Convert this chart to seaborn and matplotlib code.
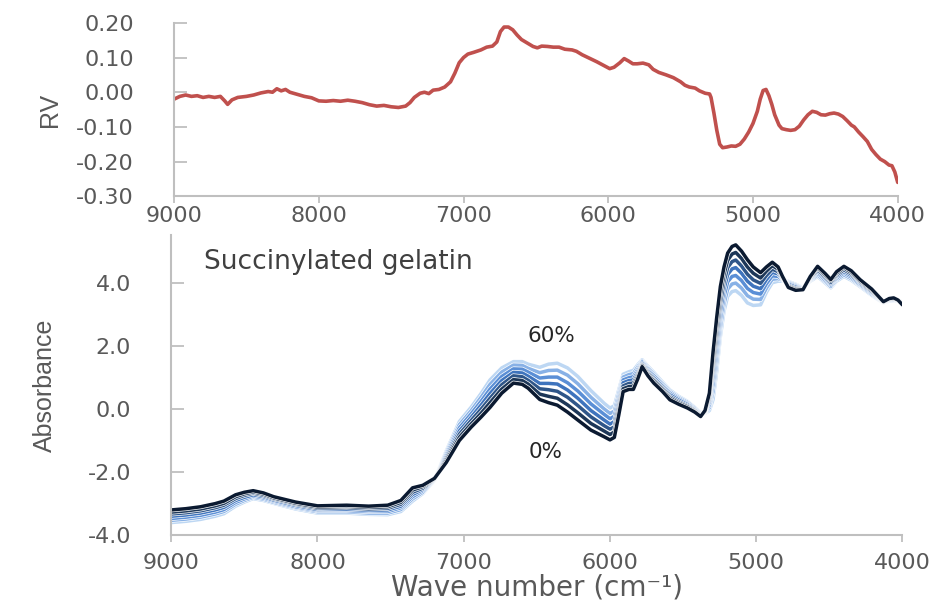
import matplotlib
matplotlib.use("Agg")
import matplotlib.pyplot as plt
import matplotlib.patheffects as pe
import pandas as pd
import seaborn as sns

# ---------------- regression vector (top panel) ----------------
rv_wavenumber = [
    9000, 8960, 8920, 8880, 8840, 8800, 8760, 8720, 8680, 8650, 8630, 8600, 8560,
    8500, 8450, 8400, 8350, 8320, 8290, 8260, 8230, 8200, 8150, 8100, 8050, 8000,
    7950, 7900, 7850, 7800, 7750, 7700, 7650, 7600, 7550, 7500, 7450, 7400, 7370,
    7340, 7300, 7270, 7240, 7210, 7170, 7130, 7090, 7060, 7030, 7000, 6970, 6930,
    6880, 6840, 6800, 6770, 6745, 6720, 6690, 6660, 6630, 6600, 6560, 6520, 6490,
    6460, 6420, 6380, 6340, 6300, 6250, 6220, 6180, 6130, 6080, 6030, 5990, 5960,
    5920, 5890, 5860, 5830, 5800, 5760, 5720, 5690, 5650, 5600, 5550, 5500, 5470,
    5440, 5400, 5370, 5330, 5300, 5290, 5270, 5250, 5230, 5210, 5180, 5150, 5120,
    5090, 5060, 5030, 5000, 4970, 4950, 4930, 4910, 4890, 4870, 4850, 4820, 4800,
    4770, 4740, 4710, 4680, 4650, 4620, 4590, 4560, 4530, 4500, 4470, 4440, 4410,
    4380, 4350, 4320, 4300, 4270, 4240, 4210, 4180, 4150, 4120, 4090, 4060, 4040,
    4020, 4000,
]
rv_values = [
    -0.020, -0.012, -0.008, -0.012, -0.010, -0.015, -0.012, -0.015, -0.012, -0.025,
    -0.035, -0.022, -0.015, -0.012, -0.008, -0.002, 0.002, 0.000, 0.010, 0.004,
    0.008, 0.000, -0.006, -0.012, -0.016, -0.025, -0.026, -0.024, -0.026, -0.023,
    -0.026, -0.030, -0.036, -0.040, -0.038, -0.042, -0.044, -0.040, -0.030, -0.015,
    -0.003, 0.000, -0.004, 0.006, 0.008, 0.015, 0.030, 0.055, 0.085, 0.100,
    0.110, 0.115, 0.122, 0.130, 0.133, 0.145, 0.175, 0.188, 0.188, 0.180,
    0.165, 0.152, 0.142, 0.132, 0.128, 0.133, 0.132, 0.130, 0.130, 0.124,
    0.122, 0.118, 0.108, 0.098, 0.088, 0.077, 0.068, 0.072, 0.085, 0.097,
    0.090, 0.082, 0.082, 0.084, 0.079, 0.066, 0.057, 0.050, 0.042, 0.030,
    0.020, 0.015, 0.012, 0.004, -0.003, -0.005, -0.015, -0.060, -0.110, -0.150,
    -0.160, -0.158, -0.155, -0.156, -0.150, -0.135, -0.115, -0.090, -0.055, -0.020,
    0.005, 0.008, -0.010, -0.035, -0.065, -0.095, -0.105, -0.108, -0.110, -0.108,
    -0.098, -0.080, -0.065, -0.055, -0.058, -0.065, -0.066, -0.062, -0.060, -0.063,
    -0.070, -0.082, -0.095, -0.100, -0.115, -0.128, -0.142, -0.165, -0.180, -0.193,
    -0.200, -0.210, -0.212, -0.230, -0.260,
]

# ---------------- absorbance spectra (bottom panel) ----------------
abs_wavenumber = [
    9000, 8900, 8800, 8700, 8640, 8560, 8500, 8440, 8370, 8300,
    8150, 8000, 7800, 7650, 7520, 7430, 7350, 7280, 7200, 7120,
    7030, 6950, 6880, 6820, 6740, 6660, 6600, 6560, 6480, 6420,
    6360, 6290, 6220, 6130, 6040, 6000, 5970, 5940, 5910, 5870,
    5840, 5810, 5780, 5740, 5700, 5640, 5590, 5530, 5470, 5420,
    5380, 5350, 5320, 5295, 5270, 5245, 5220, 5195, 5165, 5140,
    5100, 5060, 5020, 4970, 4930, 4890, 4850, 4820, 4780, 4730,
    4680, 4630, 4580, 4530, 4490, 4450, 4400, 4350, 4290, 4210,
    4130, 4090, 4060, 4030, 4000,
]
levels = ["0%", "10%", "20%", "30%", "40%", "50%", "60%"]

absorbance_0 = [
    -3.20, -3.16, -3.10, -3.00, -2.92, -2.72, -2.64, -2.59, -2.66, -2.78,
    -2.95, -3.07, -3.05, -3.08, -3.05, -2.90, -2.50, -2.42, -2.20, -1.70,
    -1.00, -0.58, -0.25, 0.05, 0.50, 0.82, 0.78, 0.66, 0.30, 0.20,
    0.12, -0.10, -0.35, -0.67, -0.88, -0.98, -0.90, -0.20, 0.55, 0.62,
    0.62, 0.95, 1.34, 1.05, 0.82, 0.55, 0.29, 0.15, 0.03, -0.10,
    -0.24, -0.05, 0.50, 1.80, 2.90, 3.88, 4.50, 4.94, 5.15, 5.20,
    5.00, 4.73, 4.50, 4.32, 4.50, 4.65, 4.50, 4.20, 3.85, 3.76,
    3.78, 4.20, 4.52, 4.30, 4.10, 4.35, 4.52, 4.38, 4.10, 3.80,
    3.40, 3.50, 3.52, 3.45, 3.30,
]
absorbance_10 = [
    -3.27, -3.23, -3.17, -3.07, -2.99, -2.78, -2.69, -2.63, -2.70, -2.82,
    -2.99, -3.11, -3.09, -3.12, -3.10, -2.96, -2.57, -2.46, -2.21, -1.64,
    -0.90, -0.48, -0.13, 0.20, 0.63, 0.93, 0.90, 0.79, 0.47, 0.40,
    0.34, 0.13, -0.12, -0.46, -0.70, -0.81, -0.73, -0.07, 0.64, 0.71,
    0.72, 1.03, 1.38, 1.10, 0.88, 0.60, 0.34, 0.19, 0.07, -0.08,
    -0.22, -0.07, 0.41, 1.55, 2.62, 3.62, 4.27, 4.71, 4.91, 4.96,
    4.77, 4.50, 4.30, 4.15, 4.37, 4.54, 4.43, 4.18, 3.88, 3.79,
    3.79, 4.18, 4.47, 4.25, 4.06, 4.30, 4.47, 4.33, 4.06, 3.77,
    3.39, 3.49, 3.50, 3.45, 3.32,
]
absorbance_20 = [
    -3.33, -3.29, -3.23, -3.13, -3.05, -2.84, -2.74, -2.67, -2.74, -2.85,
    -3.02, -3.15, -3.13, -3.17, -3.15, -3.02, -2.64, -2.51, -2.22, -1.58,
    -0.80, -0.37, 0.00, 0.34, 0.77, 1.05, 1.02, 0.91, 0.64, 0.61,
    0.56, 0.37, 0.11, -0.25, -0.53, -0.64, -0.57, 0.07, 0.73, 0.81,
    0.82, 1.10, 1.41, 1.15, 0.93, 0.65, 0.39, 0.23, 0.10, -0.05,
    -0.20, -0.08, 0.32, 1.30, 2.33, 3.35, 4.03, 4.48, 4.67, 4.72,
    4.53, 4.27, 4.09, 3.98, 4.23, 4.43, 4.35, 4.15, 3.91, 3.82,
    3.80, 4.15, 4.41, 4.20, 4.01, 4.25, 4.41, 4.28, 4.03, 3.73,
    3.39, 3.47, 3.49, 3.44, 3.33,
]
absorbance_30 = [
    -3.40, -3.36, -3.30, -3.20, -3.12, -2.90, -2.80, -2.72, -2.78, -2.89,
    -3.06, -3.19, -3.18, -3.21, -3.20, -3.08, -2.71, -2.55, -2.23, -1.52,
    -0.70, -0.27, 0.13, 0.49, 0.90, 1.16, 1.14, 1.04, 0.81, 0.81,
    0.79, 0.60, 0.34, -0.05, -0.35, -0.48, -0.40, 0.20, 0.83, 0.90,
    0.92, 1.18, 1.45, 1.20, 0.99, 0.70, 0.45, 0.28, 0.14, -0.03,
    -0.18, -0.10, 0.23, 1.05, 2.05, 3.09, 3.80, 4.26, 4.44, 4.48,
    4.30, 4.05, 3.89, 3.81, 4.10, 4.33, 4.28, 4.13, 3.95, 3.86,
    3.81, 4.13, 4.36, 4.15, 3.97, 4.20, 4.36, 4.23, 3.99, 3.70,
    3.38, 3.46, 3.47, 3.44, 3.35,
]
absorbance_40 = [
    -3.47, -3.43, -3.37, -3.27, -3.19, -2.96, -2.85, -2.76, -2.82, -2.92,
    -3.10, -3.22, -3.22, -3.25, -3.25, -3.13, -2.78, -2.59, -2.24, -1.46,
    -0.60, -0.16, 0.25, 0.63, 1.03, 1.27, 1.26, 1.17, 0.98, 1.01,
    1.01, 0.83, 0.57, 0.16, -0.17, -0.31, -0.23, 0.33, 0.92, 0.99,
    1.02, 1.25, 1.49, 1.25, 1.05, 0.75, 0.50, 0.32, 0.17, 0.00,
    -0.16, -0.11, 0.13, 0.80, 1.77, 2.83, 3.57, 4.03, 4.20, 4.23,
    4.07, 3.82, 3.69, 3.64, 3.97, 4.22, 4.20, 4.10, 3.98, 3.89,
    3.82, 4.10, 4.31, 4.10, 3.93, 4.15, 4.31, 4.18, 3.95, 3.67,
    3.37, 3.45, 3.45, 3.43, 3.37,
]
absorbance_50 = [
    -3.53, -3.49, -3.43, -3.33, -3.25, -3.02, -2.90, -2.80, -2.86, -2.96,
    -3.13, -3.26, -3.26, -3.30, -3.30, -3.19, -2.85, -2.64, -2.25, -1.40,
    -0.50, -0.06, 0.38, 0.78, 1.17, 1.39, 1.38, 1.29, 1.15, 1.22,
    1.23, 1.07, 0.80, 0.37, 0.00, -0.14, -0.07, 0.47, 1.01, 1.09,
    1.12, 1.33, 1.52, 1.30, 1.10, 0.80, 0.55, 0.36, 0.21, 0.03,
    -0.14, -0.13, 0.04, 0.55, 1.48, 2.56, 3.33, 3.80, 3.96, 3.99,
    3.83, 3.59, 3.48, 3.47, 3.83, 4.11, 4.13, 4.08, 4.01, 3.92,
    3.83, 4.08, 4.25, 4.05, 3.88, 4.10, 4.25, 4.13, 3.92, 3.63,
    3.37, 3.43, 3.44, 3.43, 3.38,
]
absorbance_60 = [
    -3.60, -3.56, -3.50, -3.40, -3.32, -3.08, -2.95, -2.84, -2.90, -2.99,
    -3.17, -3.30, -3.30, -3.34, -3.35, -3.25, -2.92, -2.68, -2.26, -1.34,
    -0.40, 0.05, 0.50, 0.92, 1.30, 1.50, 1.50, 1.42, 1.32, 1.42,
    1.45, 1.30, 1.03, 0.58, 0.18, 0.03, 0.10, 0.60, 1.10, 1.18,
    1.22, 1.40, 1.56, 1.35, 1.16, 0.85, 0.60, 0.40, 0.24, 0.05,
    -0.12, -0.14, -0.05, 0.30, 1.20, 2.30, 3.10, 3.57, 3.72, 3.75,
    3.60, 3.36, 3.28, 3.30, 3.70, 4.00, 4.05, 4.05, 4.04, 3.95,
    3.84, 4.05, 4.20, 4.00, 3.84, 4.05, 4.20, 4.08, 3.88, 3.60,
    3.36, 3.42, 3.42, 3.42, 3.40,
]
spectra = [absorbance_0, absorbance_10, absorbance_20, absorbance_30,
           absorbance_40, absorbance_50, absorbance_60]
level_colors = ["#0b1a31", "#1d3758", "#2f5689", "#3f74bd",
                "#5b8fd6", "#88b1e6", "#bdd7f3"]

wn_ticks = [9000, 8000, 7000, 6000, 5000, 4000]
rv_ticks = [0.20, 0.10, 0.00, -0.10, -0.20, -0.30]
abs_ticks = [4.0, 2.0, 0.0, -2.0, -4.0]

# ---------------- styling ----------------
sns.set_style("white")
plt.rcParams["font.family"] = ["DejaVu Sans"]
plt.rcParams["axes.unicode_minus"] = False

TICK_COLOR = "#595959"
SPINE_COLOR = "#bfbfbf"
label_font = ["Liberation Sans Narrow", "Liberation Sans", "DejaVu Sans"]

fig = plt.figure(figsize=(9.41, 6.02), dpi=100)
ax_rv = fig.add_axes([0.185, 0.674, 0.769, 0.288])
ax_ab = fig.add_axes([0.182, 0.111, 0.777, 0.499])

rv_df = pd.DataFrame({"wn": rv_wavenumber, "rv": rv_values})
sns.lineplot(data=rv_df, x="wn", y="rv", ax=ax_rv, color="#c0504d",
             linewidth=2.6, sort=False)

rows = []
for lvl, vals in zip(levels, spectra):
    for w, v in zip(abs_wavenumber, vals):
        rows.append((w, v, lvl))
ab_df = pd.DataFrame(rows, columns=["wn", "absorbance", "level"])
sns.lineplot(data=ab_df, x="wn", y="absorbance", hue="level",
             hue_order=levels[::-1],
             palette=dict(zip(levels, level_colors)),
             ax=ax_ab, linewidth=2.5, sort=False, legend=False)
for ln in ax_ab.lines:
    ln.set_path_effects([pe.Stroke(linewidth=3.5, foreground="white"), pe.Normal()])
    ln.set_solid_joinstyle("round")
    ln.set_solid_capstyle("round")

for ax in (ax_rv, ax_ab):
    ax.set_xlim(9000, 4000)
    ax.set_xticks(wn_ticks)
    ax.set_xticklabels([str(t) for t in wn_ticks])
    for side in ("top", "right"):
        ax.spines[side].set_visible(False)
    for side in ("left", "bottom"):
        ax.spines[side].set_color(SPINE_COLOR)
        ax.spines[side].set_linewidth(1.5)
    ax.tick_params(axis="x", bottom=True, direction="out", length=5, width=1.3,
                   color=SPINE_COLOR, labelcolor=TICK_COLOR, labelsize=16)
    ax.tick_params(axis="y", left=True, direction="in", length=9, width=1.3,
                   color=SPINE_COLOR, labelcolor=TICK_COLOR, labelsize=16,
                   pad=29)
    ax.set_xlabel("")
    ax.grid(False)

ax_rv.tick_params(axis="x", pad=2)
ax_ab.tick_params(axis="x", pad=8)

ax_rv.set_ylim(-0.30, 0.20)
ax_rv.set_yticks(rv_ticks)
ax_rv.set_yticklabels([f"{t:.2f}" for t in rv_ticks])
ax_rv.set_ylabel("RV", family=label_font, fontsize=18, color=TICK_COLOR, labelpad=10)

ax_ab.set_ylim(-4.0, 5.52)
ax_ab.set_yticks(abs_ticks)
ax_ab.set_yticklabels([f"{t:.1f}" for t in abs_ticks])
ax_ab.set_ylabel("Absorbance", family=label_font, fontsize=18, color=TICK_COLOR,
                 labelpad=22)
ax_ab.set_xlabel("Wave number (cm\u207b\u00b9)", fontsize=20, color=TICK_COLOR,
                 labelpad=0)

ax_ab.text(8775, 4.67, "Succinylated gelatin", fontsize=19, color="#404040",
           ha="left", va="center")
ax_ab.text(6400, 2.32, "60%", fontsize=15.5, color="#262626", ha="center",
           va="center")
ax_ab.text(6440, -1.37, "0%", fontsize=15.5, color="#262626", ha="center",
           va="center")

fig.savefig("out.png", dpi=100)
